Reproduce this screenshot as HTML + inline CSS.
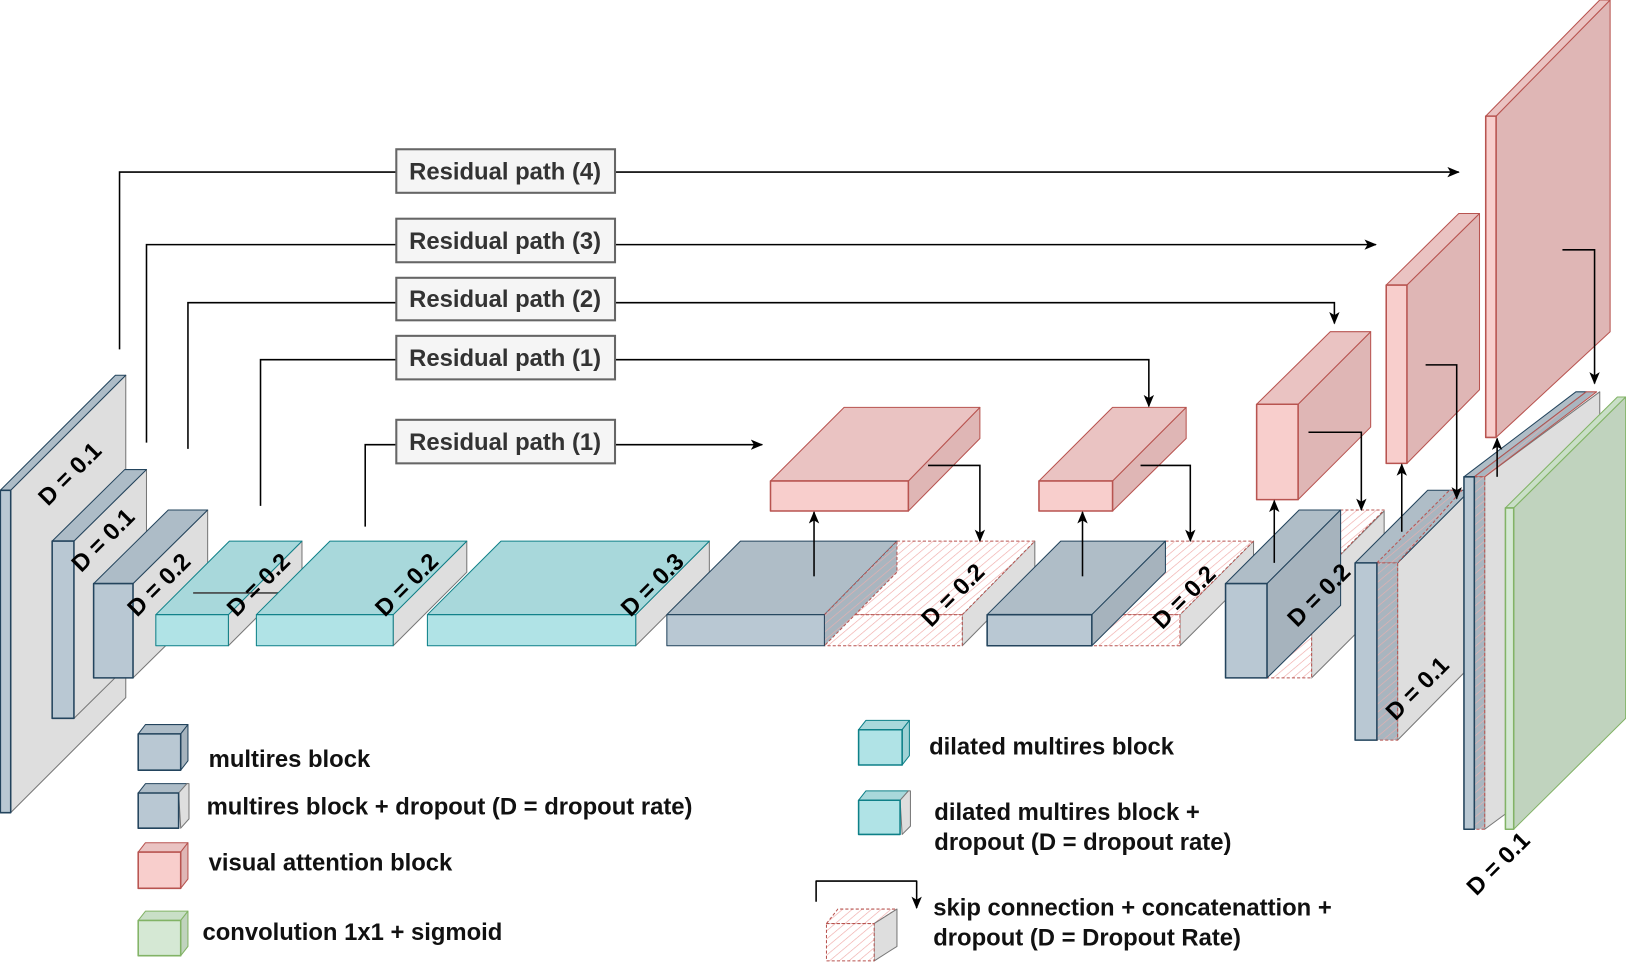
<!DOCTYPE html>
<html><head><meta charset="utf-8"><style>
html,body{margin:0;padding:0;background:#fff;}
svg{display:block;}
text{font-family:"Liberation Sans",Arial,sans-serif;font-weight:bold;}
</style></head><body>
<svg width="1626" height="964" viewBox="0 0 1568 930" xmlns="http://www.w3.org/2000/svg">
<defs>
<pattern id="h" width="6" height="6" patternUnits="userSpaceOnUse" patternTransform="rotate(50)">
<rect width="6" height="6" fill="#fff"/>
<line x1="0" y1="0" x2="0" y2="6" stroke="#f0a8a6" stroke-width="1.2"/>
</pattern>
<pattern id="hg" width="6" height="6" patternUnits="userSpaceOnUse" patternTransform="rotate(50)">
<rect width="6" height="6" fill="#a9b5bf"/>
<line x1="0" y1="0" x2="0" y2="6" stroke="#e8b0b0" stroke-width="1.2"/>
</pattern>
<marker id="a" markerWidth="12" markerHeight="12" refX="11" refY="6" orient="auto" markerUnits="userSpaceOnUse">
<path d="M0,1 L12,6 L0,11 L3,6 z" fill="#000"/>
</marker>
</defs>

<g stroke-linejoin="round">
<polygon points="10,473 121,362 121,673 10,784" fill="#dedede" stroke="#777"/>
<polygon points="0,473 111,362 121,362 10,473" fill="#adbcc7" stroke="#23445d"/>
<rect x="0" y="473" width="10" height="311" fill="#b9c8d3" stroke="#23445d" stroke-width="1.5"/>
<polygon points="71,522 141,453 141,624 71,693" fill="#dedede" stroke="#777"/>
<polygon points="50,522 120,453 141,453 71,522" fill="#adbcc7" stroke="#23445d"/>
<rect x="50" y="522" width="21" height="171" fill="#b9c8d3" stroke="#23445d" stroke-width="1.5"/>
<polygon points="128,563 200,492 200,583 128,654" fill="#dedede" stroke="#777"/>
<polygon points="90,563 162,492 200,492 128,563" fill="#adbcc7" stroke="#23445d"/>
<rect x="90" y="563" width="38" height="91" fill="#b9c8d3" stroke="#23445d" stroke-width="1.5"/>

<polygon points="220,593 291,522 291,552 220,623" fill="#dedede" stroke="#777"/>
<polygon points="150,593 221,522 291,522 220,593" fill="#a8d8db" stroke="#0e8088"/>
<line x1="186" y1="572" x2="288" y2="572" stroke="#444" stroke-width="1.5"/>
<rect x="150" y="593" width="70" height="30" fill="#b0e3e6" stroke="#0e8088"/>
<polygon points="379,593 450,522 450,552 379,623" fill="#dedede" stroke="#777"/>
<polygon points="247,593 318,522 450,522 379,593" fill="#a8d8db" stroke="#0e8088"/>
<rect x="247" y="593" width="132" height="30" fill="#b0e3e6" stroke="#0e8088"/>
<polygon points="613,593 684,522 684,552 613,623" fill="#dedede" stroke="#777"/>
<polygon points="412,593 483,522 684,522 613,593" fill="#a8d8db" stroke="#0e8088"/>
<rect x="412" y="593" width="201" height="30" fill="#b0e3e6" stroke="#0e8088"/>

<polygon points="928,593 998,522 998,552 928,623" fill="#dedede" stroke="#777"/>
<polygon points="865,522 998,522 928,593 795,593" fill="url(#h)" stroke="#b85450" stroke-dasharray="3,2"/>
<rect x="795" y="593" width="133" height="30" fill="url(#h)" stroke="#b85450" stroke-dasharray="3,2"/>
<polygon points="643,593 714,522 865,522 795,593" fill="#afbdc7" stroke="#23445d"/>
<polygon points="795,593 865,522 865,552 795,623" fill="url(#hg)" stroke="#b85450" stroke-dasharray="3,2"/>
<rect x="643" y="593" width="152" height="30" fill="#b9c8d3" stroke="#23445d"/>

<polygon points="876,464 945,393 945,423 876,493" fill="#dfb6b5" stroke="#b85450"/>
<polygon points="743,464 814,393 945,393 876,464" fill="#eac3c2" stroke="#b85450"/>
<rect x="743" y="464" width="133" height="29" fill="#f8cecc" stroke="#b85450" stroke-width="1.5"/>

<polygon points="1138,593 1209,522 1209,552 1138,623" fill="#dedede" stroke="#777"/>
<polygon points="1124,522 1209,522 1138,593 1053,593" fill="url(#h)" stroke="#b85450" stroke-dasharray="3,2"/>
<rect x="1053" y="593" width="85" height="30" fill="url(#h)" stroke="#b85450" stroke-dasharray="3,2"/>
<polygon points="952,593 1023,522 1124,522 1053,593" fill="#afbdc7" stroke="#23445d"/>
<polygon points="1053,593 1124,522 1124,552 1053,623" fill="#a6b3bd" stroke="#23445d"/>
<rect x="952" y="593" width="101" height="30" fill="#b9c8d3" stroke="#23445d" stroke-width="1.5"/>

<polygon points="1073,464 1144,393 1144,423 1073,493" fill="#dfb6b5" stroke="#b85450"/>
<polygon points="1002,464 1073,393 1144,393 1073,464" fill="#eac3c2" stroke="#b85450"/>
<rect x="1002" y="464" width="71" height="29" fill="#f8cecc" stroke="#b85450" stroke-width="1.5"/>

<polygon points="1265,563 1335,493 1335,584 1265,654" fill="#dedede" stroke="#777"/>
<polygon points="1222,563 1293,492 1335,492 1265,563" fill="url(#h)" stroke="#b85450" stroke-dasharray="3,2"/>
<rect x="1222" y="563" width="43" height="91" fill="url(#h)" stroke="#b85450" stroke-dasharray="3,2"/>
<polygon points="1182,563 1253,492 1293,492 1222,563" fill="#afbdc7" stroke="#23445d"/>
<polygon points="1222,563 1293,492 1293,584 1222,654" fill="#a6b3bd" stroke="#23445d"/>
<rect x="1182" y="563" width="40" height="91" fill="#b9c8d3" stroke="#23445d" stroke-width="1.5"/>

<polygon points="1252,390 1322,320 1322,412 1252,482" fill="#dfb6b5" stroke="#b85450"/>
<polygon points="1212,390 1283,320 1322,320 1252,390" fill="#eac3c2" stroke="#b85450"/>
<rect x="1212" y="390" width="40" height="92" fill="#f8cecc" stroke="#b85450" stroke-width="1.5"/>

<polygon points="1348,543 1418,473 1418,643 1348,714" fill="#dedede" stroke="#777"/>
<polygon points="1307,543 1377,473 1418,473 1348,543" fill="#afbdc7" stroke="#23445d"/>
<polygon points="1328,543 1398,473 1410,473 1348,543" fill="url(#hg)" stroke="#b85450" stroke-dasharray="3,2"/>
<rect x="1328" y="543" width="20" height="171" fill="url(#hg)" stroke="#b85450" stroke-dasharray="3,2"/>
<rect x="1307" y="543" width="21" height="171" fill="#b9c8d3" stroke="#23445d" stroke-width="1.5"/>

<polygon points="1357,275 1427,206 1427,376 1357,447" fill="#dfb6b5" stroke="#b85450"/>
<polygon points="1337,275 1407,206 1427,206 1357,275" fill="#eac3c2" stroke="#b85450"/>
<rect x="1337" y="275" width="20" height="172" fill="#f8cecc" stroke="#b85450" stroke-width="1.5"/>

<polygon points="1432,460 1543,378 1543,718 1432,800" fill="#dedede" stroke="#777"/>
<polygon points="1412,460 1520,378 1530,378 1422,460" fill="#afbdc7" stroke="#23445d"/>
<polygon points="1422,460 1530,378 1540,378 1432,460" fill="url(#hg)" stroke="#b85450"/>
<rect x="1422" y="460" width="10" height="340" fill="url(#hg)" stroke="#b85450" stroke-dasharray="3,2"/>
<rect x="1412" y="460" width="10" height="340" fill="#b9c8d3" stroke="#23445d" stroke-width="1.5"/>
<polygon points="1460,490 1568,383 1568,693 1460,800" fill="#c0d3be" stroke="#82b366"/>
<polygon points="1452,490 1560,383 1568,383 1460,490" fill="#c9dfc7" stroke="#82b366"/>
<rect x="1452" y="490" width="8" height="310" fill="#d5e8d4" stroke="#82b366" stroke-width="1.5"/>

<polygon points="1443,112 1553,0 1553,320 1443,422" fill="#dfb6b5" stroke="#b85450"/>
<polygon points="1433,112 1543,0 1553,0 1443,112" fill="#eac3c2" stroke="#b85450"/>
<rect x="1433" y="112" width="10" height="310" fill="#f8cecc" stroke="#b85450" stroke-width="1.5"/>
</g>

<g font-size="23" fill="#000">
<text transform="translate(46,489) rotate(-45)">D = 0.1</text>
<text transform="translate(78,553) rotate(-45)">D = 0.1</text>
<text transform="translate(132,596) rotate(-45)">D = 0.2</text>
<text transform="translate(228,596) rotate(-45)">D = 0.2</text>
<text transform="translate(371,596) rotate(-45)">D = 0.2</text>
<text transform="translate(608,596) rotate(-45)">D = 0.3</text>
<text transform="translate(898,606) rotate(-45)">D = 0.2</text>
<text transform="translate(1121,608) rotate(-45)">D = 0.2</text>
<text transform="translate(1251,606) rotate(-45)">D = 0.2</text>
<text transform="translate(1346,696) rotate(-45)">D = 0.1</text>
<text transform="translate(1424,865) rotate(-45)">D = 0.1</text>
</g>

<g fill="none" stroke="#000" stroke-width="1.5">
<polyline points="115,337 115,166 382,166"/>
<line x1="593" y1="166" x2="1407" y2="166" marker-end="url(#a)"/>
<polyline points="141,427 141,236 382,236"/>
<line x1="593" y1="236" x2="1327" y2="236" marker-end="url(#a)"/>
<polyline points="181,433 181,292 382,292"/>
<polyline points="593,292 1287,292 1287,312" marker-end="url(#a)"/>
<polyline points="251,488 251,347 382,347"/>
<polyline points="593,347 1108,347 1108,392" marker-end="url(#a)"/>
<polyline points="352,508 352,429 382,429"/>
<line x1="593" y1="429" x2="735" y2="429" marker-end="url(#a)"/>

<line x1="785" y1="556" x2="785" y2="494" marker-end="url(#a)"/>
<polyline points="895,449 945,449 945,522" marker-end="url(#a)"/>
<line x1="1044" y1="556" x2="1044" y2="494" marker-end="url(#a)"/>
<polyline points="1100,449 1148,449 1148,522" marker-end="url(#a)"/>
<line x1="1229" y1="543" x2="1229" y2="483" marker-end="url(#a)"/>
<polyline points="1262,417 1313,417 1313,492" marker-end="url(#a)"/>
<line x1="1352" y1="513" x2="1352" y2="448" marker-end="url(#a)"/>
<polyline points="1375,352 1405,352 1405,481" marker-end="url(#a)"/>
<line x1="1444" y1="460" x2="1444" y2="423" marker-end="url(#a)"/>
<polyline points="1507,241 1538,241 1538,370" marker-end="url(#a)"/>
</g>

<g font-size="23" fill="#333">
<rect x="382" y="144" width="211" height="42" fill="#f5f5f5" stroke="#666" stroke-width="2"/>
<text x="487" y="173" text-anchor="middle">Residual path (4)</text>
<rect x="382" y="211" width="211" height="42" fill="#f5f5f5" stroke="#666" stroke-width="2"/>
<text x="487" y="240" text-anchor="middle">Residual path (3)</text>
<rect x="382" y="268" width="211" height="41" fill="#f5f5f5" stroke="#666" stroke-width="2"/>
<text x="487" y="296" text-anchor="middle">Residual path (2)</text>
<rect x="382" y="324" width="211" height="42" fill="#f5f5f5" stroke="#666" stroke-width="2"/>
<text x="487" y="353" text-anchor="middle">Residual path (1)</text>
<rect x="382" y="405" width="211" height="42" fill="#f5f5f5" stroke="#666" stroke-width="2"/>
<text x="487" y="434" text-anchor="middle">Residual path (1)</text>
</g>

<g stroke-linejoin="round">
<polygon points="133,708 140,699 181,699 174,708" fill="#adbcc7" stroke="#23445d"/>
<polygon points="174,708 181,699 181,734 174,743" fill="#a6b3bd" stroke="#23445d"/>
<rect x="133" y="708" width="41" height="35" fill="#b9c8d3" stroke="#23445d" stroke-width="1.5"/>

<polygon points="133,765 140,756 181,756 174,765" fill="#adbcc7" stroke="#23445d"/>
<polygon points="172,765 180,756 182,756 182,790 174,799" fill="#dedede" stroke="#777"/>
<rect x="133" y="765" width="39" height="34" fill="#b9c8d3" stroke="#23445d" stroke-width="1.5"/>

<polygon points="133,822 140,813 181,813 174,822" fill="#eac3c2" stroke="#b85450"/>
<polygon points="174,822 181,813 181,848 174,857" fill="#dfb6b5" stroke="#b85450"/>
<rect x="133" y="822" width="41" height="35" fill="#f8cecc" stroke="#b85450" stroke-width="1.5"/>

<polygon points="133,888 140,879 181,879 174,888" fill="#c9dfc7" stroke="#82b366"/>
<polygon points="174,888 181,879 181,913 174,922" fill="#c0d3be" stroke="#82b366"/>
<rect x="133" y="888" width="41" height="34" fill="#d5e8d4" stroke="#82b366" stroke-width="1.5"/>

<polygon points="828,704 835,695 877,695 870,704" fill="#a8d8db" stroke="#0e8088"/>
<polygon points="870,704 877,695 877,729 870,738" fill="#a0d2d5" stroke="#0e8088"/>
<rect x="828" y="704" width="42" height="34" fill="#b0e3e6" stroke="#0e8088" stroke-width="1.5"/>

<polygon points="828,772 835,763 877,763 870,772" fill="#a8d8db" stroke="#0e8088"/>
<polygon points="868,772 876,763 878,763 878,797 870,805" fill="#dedede" stroke="#777"/>
<rect x="828" y="772" width="40" height="33" fill="#b0e3e6" stroke="#0e8088" stroke-width="1.5"/>

<polyline points="787,870 787,850 884,850 884,876" fill="none" stroke="#000" stroke-width="1.5" marker-end="url(#a)"/>
<polygon points="797,891 808,877 865,877 843,891" fill="url(#h)" stroke="#b85450" stroke-dasharray="3,2"/>
<polygon points="843,891 865,877 865,913 843,927" fill="#dedede" stroke="#777"/>
<rect x="797" y="891" width="46" height="36" fill="url(#h)" stroke="#b85450" stroke-dasharray="3,2"/>
</g>
<g font-size="23" fill="#111">
<text x="201" y="740">multires block</text>
<text x="199" y="786">multires block + dropout (D = dropout rate)</text>
<text x="201" y="840">visual attention block</text>
<text x="195" y="907">convolution 1x1 + sigmoid</text>
<text x="896" y="728">dilated multires block</text>
<text x="901" y="791">dilated multires block +</text>
<text x="901" y="820">dropout (D = dropout rate)</text>
<text x="900" y="883">skip connection + concatenattion +</text>
<text x="900" y="912">dropout (D = Dropout Rate)</text>
</g>
</svg>
</body></html>
